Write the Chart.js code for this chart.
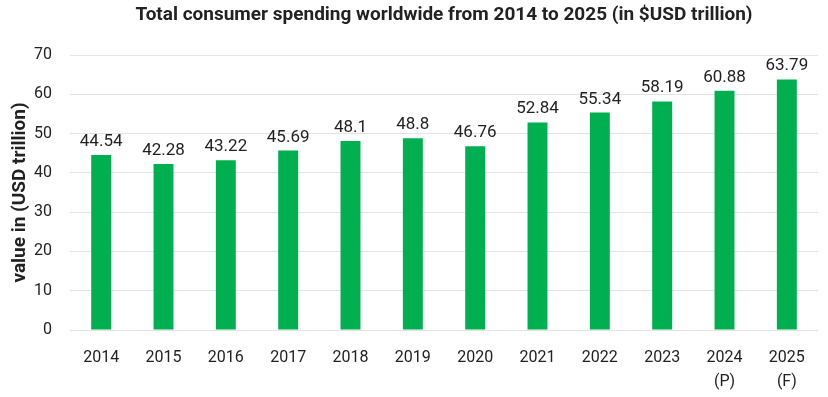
<!DOCTYPE html>
<html>
<head>
<meta charset="utf-8">
<script src="https://cdn.jsdelivr.net/npm/chart.js@4"></script>
<style>
	html, body { margin: 0; padding: 0; background: #fff; }
	#wrap { width: 828px; height: 397px; }
</style>
</head>
<body>
<div id="wrap"><canvas id="canvas-chart-bar-consumo"></canvas></div>
<script>
var anios = [['2014'], ['2015'], ['2016'], ['2017'], ['2018'], ['2019'], ['2020'], ['2021'], ['2022'], ['2023'], ['2024', '(P)'], ['2025', '(F)']];
var gasto = [44.54, 42.28, 43.22, 45.69, 48.1, 48.8, 46.76, 52.84, 55.34, 58.19, 60.88, 63.79];
var titulo = 'Total consumer spending worldwide from 2014 to 2025 (in $USD trillion)';
var tituloEje = 'value in (USD trillion)';

var fuente = "Roboto, 'DejaVu Sans', sans-serif";
var verde = '#00b050';

// etiquetas encima de cada barra + titulo centrado en el area del grafico
var pluginEtiquetas = {
	id: 'etiquetas',
	afterDatasetsDraw: function(chart) {
		var ctx = chart.ctx;
		var meta = chart.getDatasetMeta(0);
		ctx.save();
		ctx.fillStyle = '#222';
		ctx.font = '17px ' + fuente;
		ctx.textAlign = 'center';
		ctx.textBaseline = 'alphabetic';
		meta.data.forEach(function(bar, i) {
			ctx.fillText(String(gasto[i]), bar.x, bar.y - 9);
		});
		var area = chart.chartArea;
		ctx.font = 'bold 19px ' + fuente;
		ctx.textBaseline = 'middle';
		ctx.fillText(titulo, (area.left + area.right) / 2, 15);
		ctx.restore();
	}
};

const canvasConsumo = document.getElementById('canvas-chart-bar-consumo').getContext('2d');
var chartConsumo = new Chart(canvasConsumo, {
	type: 'bar',
	data: {
		labels: anios,
		datasets: [{
			label: 'Consumer spending',
			data: gasto,
			backgroundColor: verde,
			borderWidth: 0,
			barPercentage: 0.32,
			categoryPercentage: 1
		}]
	},
	options: {
		responsive: true,
		maintainAspectRatio: false,
		animation: false,
		layout: {
			padding: { top: 55, right: 10, bottom: 4, left: 4 }
		},
		plugins: {
			legend: { display: false },
			tooltip: { enabled: false }
		},
		scales: {
			x: {
				grid: { display: false },
				border: { display: false },
				afterFit: function(scale) { scale.height = 63; },
				ticks: {
					color: '#222',
					font: { family: fuente, size: 16, lineHeight: 1.5 },
					padding: 8,
					maxRotation: 0
				}
			},
			y: {
				min: 0,
				max: 70,
				grid: { color: '#e3e3e3', lineWidth: 1, drawTicks: false },
				border: { display: false },
				afterFit: function(scale) { scale.width = 66; },
				ticks: {
					stepSize: 10,
					color: '#222',
					font: { family: fuente, size: 16 },
					padding: 18
				},
				title: {
					display: true,
					text: tituloEje,
					color: '#222',
					font: { family: fuente, size: 19, weight: 'bold' },
					padding: { top: 5, bottom: 0 }
				}
			}
		}
	},
	plugins: [pluginEtiquetas]
});
</script>
</body>
</html>
